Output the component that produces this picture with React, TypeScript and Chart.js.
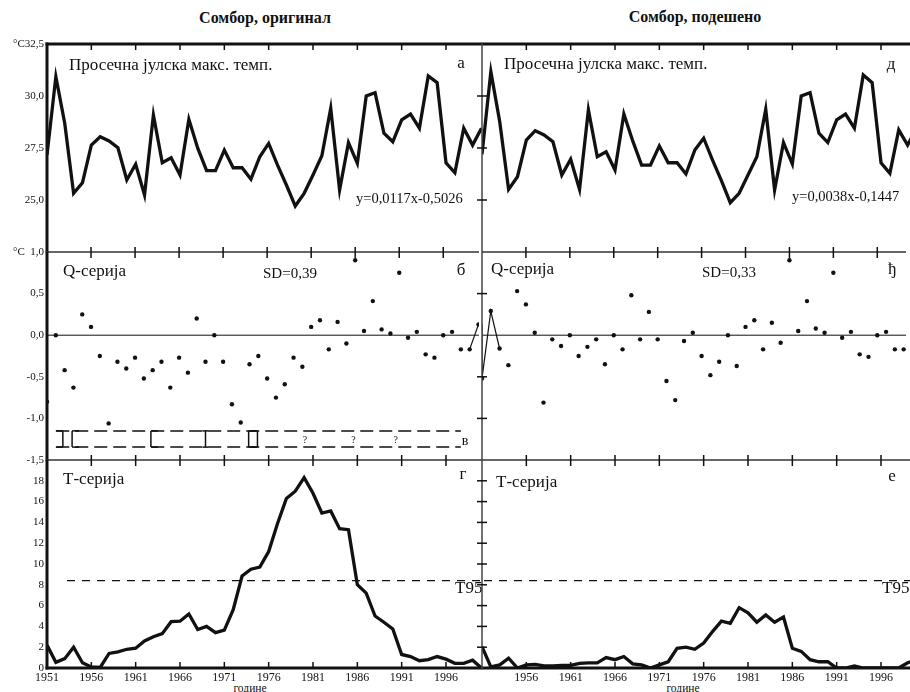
import React, { useEffect, useRef } from "react";
import { Chart, registerables } from "chart.js";

Chart.register(...registerables);

// ---------- data ----------
const YEARS = [
  1951, 1952, 1953, 1954, 1955, 1956, 1957, 1958, 1959, 1960,
  1961, 1962, 1963, 1964, 1965, 1966, 1967, 1968, 1969, 1970,
  1971, 1972, 1973, 1974, 1975, 1976, 1977, 1978, 1979, 1980,
  1981, 1982, 1983, 1984, 1985, 1986, 1987, 1988, 1989, 1990,
  1991, 1992, 1993, 1994, 1995, 1996, 1997, 1998, 1999, 2000,
];

const X_TICKS_LEFT = [1951, 1956, 1961, 1966, 1971, 1976, 1981, 1986, 1991, 1996];
const X_TICKS_RIGHT = [1956, 1961, 1966, 1971, 1976, 1981, 1986, 1991, 1996];

// average July maximum temperature (°C)
const TEMP_ORIGINAL = [
  27.16, 30.93, 28.69, 25.32, 25.83, 27.64, 28.04, 27.84, 27.51, 25.96,
  26.72, 25.24, 29.09, 26.79, 27.03, 26.2, 28.88, 27.49, 26.41, 26.41,
  27.4, 26.55, 26.55, 26.0, 27.08, 27.72, 26.68, 25.72, 24.71, 25.32,
  26.2, 27.13, 29.41, 25.48, 27.76, 26.76, 30.0, 30.16, 28.21, 27.8,
  28.85, 29.13, 28.45, 30.96, 30.64, 26.79, 26.31, 28.45, 27.64, 28.45,
];
const TEMP_ADJUSTED = [
  27.2, 31.17, 28.76, 25.51, 26.12, 27.88, 28.33, 28.13, 27.8, 26.2,
  26.96, 25.51, 29.33, 27.08, 27.32, 26.44, 29.13, 27.84, 26.68, 26.68,
  27.6, 26.79, 26.79, 26.25, 27.4, 27.97, 26.92, 25.93, 24.87, 25.32,
  26.2, 27.08, 29.36, 25.48, 27.76, 26.73, 30.0, 30.16, 28.21, 27.76,
  28.85, 29.13, 28.45, 31.01, 30.64, 26.79, 26.28, 28.37, 27.64, 28.45,
];

// Q series (°C)
const Q_ORIGINAL = [
  -0.8, 0.0, -0.42, -0.63, 0.25, 0.1, -0.25, -1.06, -0.32, -0.4,
  -0.27, -0.52, -0.42, -0.32, -0.63, -0.27, -0.45, 0.2, -0.32, 0.0,
  -0.32, -0.83, -1.05, -0.35, -0.25, -0.52, -0.75, -0.59, -0.27, -0.38,
  0.1, 0.18, -0.17, 0.16, -0.1, 0.9, 0.05, 0.41, 0.07, 0.02,
  0.75, -0.03, 0.04, -0.23, -0.27, 0.0, 0.04, -0.17, -0.17, 0.13,
];
const Q_ADJUSTED = [
  -0.52, 0.29, -0.16, -0.36, 0.53, 0.37, 0.03, -0.81, -0.05, -0.13,
  0.0, -0.25, -0.14, -0.05, -0.35, 0.0, -0.17, 0.48, -0.05, 0.28,
  -0.05, -0.55, -0.78, -0.07, 0.03, -0.25, -0.48, -0.32, 0.0, -0.37,
  0.1, 0.18, -0.17, 0.15, -0.09, 0.9, 0.05, 0.41, 0.08, 0.03,
  0.75, -0.03, 0.04, -0.23, -0.26, 0.0, 0.04, -0.17, -0.17, 0.13,
];

// T series
const T_ORIGINAL = [
  2.2, 0.55, 0.9, 2.0, 0.5, 0.1, 0.05, 1.4, 1.55, 1.8,
  1.9, 2.6, 3.0, 3.3, 4.45, 4.5, 5.2, 3.7, 4.0, 3.4,
  3.65, 5.6, 8.85, 9.5, 9.7, 11.2, 13.9, 16.3, 17.0, 18.3,
  16.8, 14.9, 15.1, 13.4, 13.3, 8.0, 7.2, 5.0, 4.4, 3.75,
  1.3, 1.1, 0.7, 0.8, 1.1, 0.85, 0.45, 0.45, 0.75, 0.0,
];
const T_ADJUSTED = [
  2.05, 0.1, 0.3, 0.95, 0.0, 0.3, 0.35, 0.2, 0.2, 0.25,
  0.25, 0.45, 0.5, 0.5, 1.0, 0.8, 1.1, 0.4, 0.3, 0.0,
  0.3, 0.6, 1.9, 2.0, 1.8, 2.4, 3.5, 4.5, 4.3, 5.8,
  5.3, 4.4, 5.1, 4.4, 4.9, 1.9, 1.6, 0.8, 0.6, 0.6,
  0.0, 0.0, 0.2, 0.0, 0.0, 0.0, 0.0, 0.0, 0.5, 0.8,
];
const T95 = 8.4;

// y-axis ticks
const TEMP_TICKS = [22.5, 25, 27.5, 30, 32.5];
const TEMP_TICK_LABELS = ["", "25,0", "27,5", "30,0", "°C32,5"];
const Q_TICKS = [-1.5, -1, -0.5, 0, 0.5, 1];
const Q_TICK_LABELS = ["-1,5", "-1,0", "-0,5", "0,0", "0,5", "°C  1,0"];
const T_TICKS = [0, 2, 4, 6, 8, 10, 12, 14, 16, 18, 20];
const T_TICK_LABELS = ["0", "2", "4", "6", "8", "10", "12", "14", "16", "18", ""];

// homogeneity metadata box (panel в)
const BOX_START = 1952.05;
const BOX_END = 1998.0;
const BOX_TOP = -1.15;
const BOX_BOTTOM = -1.345;
const BREAKS = [
  { year: 1952.8, kind: "]" },
  { year: 1953.85, kind: "[" },
  { year: 1962.8, kind: "[" },
  { year: 1969.0, kind: "I" },
  { year: 1973.9, kind: "[" },
  { year: 1974.9, kind: "]" },
];
const QUESTION_YEARS = [1980.3, 1985.8, 1990.6];

// ---------- helpers ----------
const SERIF = '"Liberation Serif", "Times New Roman", serif';
const INK = "#111";

const pts = (vals: number[]) => YEARS.map((yr, i) => ({ x: yr, y: vals[i] }));

const lineDs = (vals: number[]) => ({
  data: pts(vals),
  borderColor: INK,
  borderWidth: 3.3,
  pointRadius: 0,
  tension: 0,
  borderJoinStyle: "miter",
  fill: false,
});
const dotDs = (vals: number[]) => ({
  data: pts(vals),
  showLine: false,
  pointRadius: 2.2,
  pointBackgroundColor: INK,
  pointBorderWidth: 0,
  borderColor: INK,
});
const linkDs = (data: { x: number; y: number }[]) => ({
  data,
  borderColor: INK,
  borderWidth: 1.2,
  pointRadius: 0,
  tension: 0,
  fill: false,
});

const decorPlugin = {
  id: "decor",
  afterDatasetsDraw(chart: any, _args: any, o: any) {
    if (!o || !o.enabled) return;
    const { ctx, chartArea: a } = chart;
    const xs = chart.scales.x;
    const ys = chart.scales.y;
    const X = (v: number) => xs.getPixelForValue(v);
    const Y = (v: number) => ys.getPixelForValue(v);
    const seg = (x1: number, y1: number, x2: number, y2: number, w: number, c: string, dash?: number[]) => {
      ctx.beginPath();
      ctx.lineWidth = w;
      ctx.strokeStyle = c;
      ctx.setLineDash(dash || []);
      ctx.moveTo(x1, y1);
      ctx.lineTo(x2, y2);
      ctx.stroke();
    };
    ctx.save();
    ctx.lineCap = "butt";
    if (o.zeroLine) seg(a.left, Y(0), a.right, Y(0), 1, INK);
    if (o.threshold != null) {
      seg(a.left + o.dashStart, Y(o.threshold), a.right, Y(o.threshold), 1.3, INK, [8, 7]);
    }
    if (o.box) {
      const yt = Y(BOX_TOP);
      const yb = Y(BOX_BOTTOM);
      const x0 = X(BOX_START);
      const x1 = X(BOX_END);
      seg(x0, yt, x1, yt, 1.5, INK, [13, 6]);
      seg(x0, yb, x1, yb, 1.5, INK, [13, 6]);
      for (const b of BREAKS) {
        const x = X(b.year);
        seg(x, yt, x, yb, 1.5, INK);
        let c0 = -3, c1 = 3;
        if (b.kind === "]") { c0 = -7; c1 = 0; }
        if (b.kind === "[") { c0 = 0; c1 = 7; }
        seg(x + c0, yt, x + c1, yt, 1.5, INK);
        seg(x + c0, yb, x + c1, yb, 1.5, INK);
      }
      ctx.fillStyle = INK;
      ctx.font = `10px ${SERIF}`;
      ctx.textAlign = "center";
      ctx.textBaseline = "middle";
      for (const q of QUESTION_YEARS) ctx.fillText("?", X(q), (yt + yb) / 2 + 1);
    }
    // frame
    seg(a.left - o.topExtL, a.top, a.right, a.top, o.topW, o.topColor);
    if (o.bottomW) seg(a.left - o.topExtL, a.bottom, a.right, a.bottom, o.bottomW, INK);
    seg(a.left, a.top - (o.axisUp || 0), a.left, a.bottom + (o.bottomW ? 1.5 : 0), o.axisW, o.axisColor);
    for (const t of o.tickYears) {
      const x = X(t);
      seg(x, a.top - o.tickUp, x, a.top + 6, 1.5, INK);
      if (o.bottomW) seg(x, a.bottom - 6, x, a.bottom, 1.5, INK);
    }
    for (const v of o.crossTicks || []) seg(a.left - 5, Y(v), a.left + 5, Y(v), 1.5, INK);
    // texts
    ctx.setLineDash([]);
    ctx.fillStyle = INK;
    ctx.textBaseline = "middle";
    for (const t of o.texts || []) {
      ctx.font = `${t.bold ? "bold " : ""}${t.size}px ${SERIF}`;
      ctx.textAlign = t.align || "left";
      ctx.fillText(t.text, t.x - o.ox, t.y - o.oy);
    }
    ctx.restore();
  },
};

// ---------- layout ----------
const COLS = {
  left: { left: 0, width: 483, padL: 0, padR: 1, xMin: 1951, xMax: 2000.06, showY: true },
  right: { left: 440, width: 470, padL: 42, padR: 0, xMin: 1951, xMax: 1999.27, showY: false },
};
const ROWS = [
  { top: 30, height: 236, padT: 14, padB: 14, showX: false },
  { top: 238, height: 236, padT: 14, padB: 14, showX: false },
  { top: 446, height: 246, padT: 14, padB: 0, showX: true },
];

type Txt = { text: string; x: number; y: number; size: number; align?: string; bold?: boolean };

type Spec = {
  key: string;
  col: "left" | "right";
  row: number;
  yMin: number;
  yMax: number;
  yTicks: number[];
  yLabels: string[];
  datasets: any[];
  decor: any;
};

function buildConfig(s: Spec) {
  const c = COLS[s.col];
  const r = ROWS[s.row];
  const xTicks = s.col === "left" ? X_TICKS_LEFT : X_TICKS_RIGHT;
  return {
    type: "line",
    data: { datasets: s.datasets },
    options: {
      responsive: false,
      animation: false,
      devicePixelRatio: 1,
      events: [],
      layout: { padding: { left: c.padL, right: c.padR, top: r.padT, bottom: r.padB } },
      plugins: {
        legend: { display: false },
        tooltip: { enabled: false },
        decor: {
          enabled: true,
          ox: c.left,
          oy: r.top,
          topW: s.row === 0 ? 3 : 1.5,
          topColor: s.row === 0 ? INK : "#333",
          topExtL: s.col === "left" ? 1.5 : 0,
          bottomW: s.row === 2 ? 3 : 0,
          axisW: s.col === "left" ? 3 : 1.5,
          axisColor: s.col === "left" ? INK : "#444",
          axisUp: s.row === 0 ? 1.5 : 0,
          tickYears: X_TICKS_RIGHT,
          tickUp: s.row === 0 ? 0 : 5,
          ...s.decor,
        },
      },
      scales: {
        x: {
          type: "linear",
          min: c.xMin,
          max: c.xMax,
          display: r.showX,
          grid: { display: false, drawTicks: false },
          border: { display: false },
          afterBuildTicks: (sc: any) => {
            sc.ticks = xTicks.map((v) => ({ value: v }));
          },
          afterFit: (sc: any) => {
            sc.height = r.showX ? 24 : 0;
          },
          ticks: {
            autoSkip: false,
            maxRotation: 0,
            minRotation: 0,
            padding: 3,
            color: INK,
            font: { family: SERIF, size: 12, lineHeight: 1.2 },
            callback: (v: any) => String(v),
          },
        },
        y: {
          type: "linear",
          position: "left",
          min: s.yMin,
          max: s.yMax,
          display: c.showY,
          grid: { display: false, drawTicks: false },
          border: { display: false },
          afterBuildTicks: (sc: any) => {
            sc.ticks = s.yTicks.map((v) => ({ value: v }));
          },
          afterFit: (sc: any) => {
            sc.width = c.showY ? 47 : 0;
          },
          ticks: {
            padding: 3,
            color: INK,
            font: { family: SERIF, size: 11 },
            callback: (_v: any, i: number) => s.yLabels[i],
          },
        },
      },
    },
    plugins: [decorPlugin],
  };
}

const T = (text: string, x: number, y: number, size: number, align = "left"): Txt => ({ text, x, y, size, align });

const SPECS: Spec[] = [
  {
    key: "a", col: "left", row: 0, yMin: 22.5, yMax: 32.5, yTicks: TEMP_TICKS, yLabels: TEMP_TICK_LABELS,
    datasets: [lineDs(TEMP_ORIGINAL)],
    decor: {
      texts: [
        T("Просечна јулска макс. темп.", 69, 66, 17),
        T("а", 461, 64, 17, "center"),
        T("y=0,0117x-0,5026", 356, 199, 14.5),
      ],
    },
  },
  {
    key: "b", col: "left", row: 1, yMin: -1.5, yMax: 1.0, yTicks: Q_TICKS, yLabels: Q_TICK_LABELS,
    datasets: [
      dotDs(Q_ORIGINAL),
      linkDs([YEARS.length - 2, YEARS.length - 1].map((i) => ({ x: YEARS[i], y: Q_ORIGINAL[i] }))),
    ],
    decor: {
      zeroLine: true,
      box: true,
      texts: [
        T("Q-серија", 63, 272, 17),
        T("SD=0,39", 263, 274, 15),
        T("б", 461, 271, 17, "center"),
        T("в", 465, 441, 14, "center"),
      ],
    },
  },
  {
    key: "g", col: "left", row: 2, yMin: 0, yMax: 20, yTicks: T_TICKS, yLabels: T_TICK_LABELS,
    datasets: [lineDs(T_ORIGINAL)],
    decor: {
      threshold: T95,
      dashStart: 20,
      texts: [
        T("Т-серија", 63, 480, 17),
        T("г", 463, 475, 17, "center"),
        T("T95", 455, 589, 17),
      ],
    },
  },
  {
    key: "d", col: "right", row: 0, yMin: 22.5, yMax: 32.5, yTicks: TEMP_TICKS, yLabels: TEMP_TICK_LABELS,
    datasets: [lineDs(TEMP_ADJUSTED)],
    decor: {
      crossTicks: [25, 27.5, 30],
      texts: [
        T("Просечна јулска макс. темп.", 504, 65, 17),
        T("д", 891, 65, 17, "center"),
        T("y=0,0038x-0,1447", 792, 197, 14.5),
      ],
    },
  },
  {
    key: "dj", col: "right", row: 1, yMin: -1.5, yMax: 1.0, yTicks: Q_TICKS, yLabels: Q_TICK_LABELS,
    datasets: [
      dotDs(Q_ADJUSTED),
      linkDs([
        { x: YEARS[0], y: Q_ORIGINAL[Q_ORIGINAL.length - 1] },
        ...[0, 1, 2].map((i) => ({ x: YEARS[i], y: Q_ADJUSTED[i] })),
      ]),
    ],
    decor: {
      zeroLine: true,
      crossTicks: [-1, -0.5, 0.5],
      texts: [
        T("Q-серија", 491, 270, 17),
        T("SD=0,33", 702, 273, 15),
        T("ђ", 892, 270, 17, "center"),
      ],
    },
  },
  {
    key: "e", col: "right", row: 2, yMin: 0, yMax: 20, yTicks: T_TICKS, yLabels: T_TICK_LABELS,
    datasets: [lineDs(T_ADJUSTED)],
    decor: {
      threshold: T95,
      dashStart: 2,
      crossTicks: [2, 4, 6, 8, 10, 12, 14, 16, 18],
      texts: [
        T("Т-серија", 496, 483, 17),
        T("е", 892, 477, 17, "center"),
        T("T95", 882, 589, 17),
      ],
    },
  },
];

function Panel({ spec }: { spec: Spec }) {
  const ref = useRef<HTMLCanvasElement | null>(null);
  const c = COLS[spec.col];
  const r = ROWS[spec.row];
  useEffect(() => {
    const chart = new Chart(ref.current as HTMLCanvasElement, buildConfig(spec) as any);
    return () => chart.destroy();
  }, []);
  return (
    <canvas
      ref={ref}
      width={c.width}
      height={r.height}
      style={{ position: "absolute", left: c.left, top: r.top, width: c.width, height: r.height }}
    />
  );
}

export default function App() {
  const label = (text: string, cx: number, cy: number, size: number, bold: boolean) => (
    <div
      style={{
        position: "absolute",
        left: cx - 150,
        width: 300,
        top: cy - 10,
        height: 20,
        lineHeight: "20px",
        textAlign: "center",
        fontFamily: SERIF,
        fontSize: size,
        fontWeight: bold ? "bold" : "normal",
        color: INK,
        whiteSpace: "nowrap",
      }}
    >
      {text}
    </div>
  );
  return (
    <div
      style={{
        position: "fixed",
        left: 0,
        top: 0,
        width: 910,
        height: 692,
        background: "#fff",
        overflow: "hidden",
      }}
    >
      {label("Сомбор, оригинал", 265, 18, 16, true)}
      {label("Сомбор, подешено", 695, 17, 16, true)}
      {label("године", 250, 688, 11.5, false)}
      {label("године", 683, 688, 11.5, false)}
      {SPECS.map((s) => (
        <Panel key={s.key} spec={s} />
      ))}
    </div>
  );
}
